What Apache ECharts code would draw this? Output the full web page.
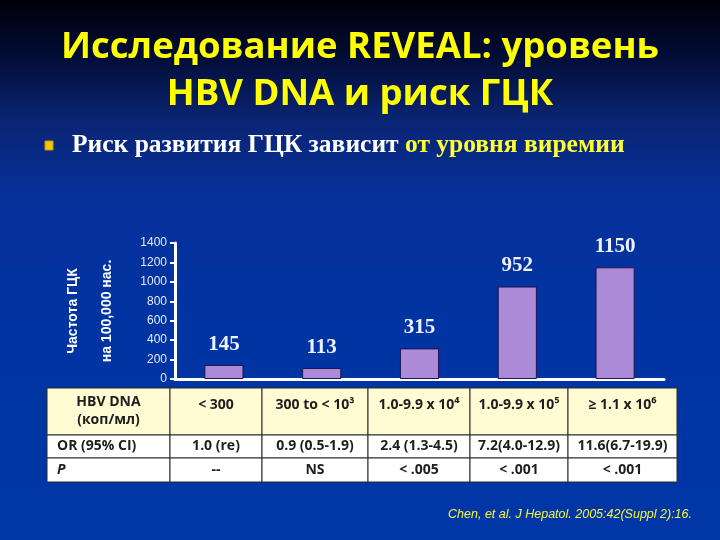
<!DOCTYPE html>
<html>
<head>
<meta charset="utf-8">
<script src="https://cdn.jsdelivr.net/npm/echarts@6/dist/echarts.min.js"></script>
<style>
  html, body { margin: 0; padding: 0; background: #0034a0; }
  #chart { width: 720px; height: 540px; }
</style>
</head>
<body>
<div id="chart"></div>
<script>
  // data
  var categories = ['< 300', '300 to < 10³', '1.0-9.9 x 10⁴', '1.0-9.9 x 10⁵', '≥ 1.1 x 10⁶'];
  var incidence = [145, 113, 315, 952, 1150];
  var yMin = 0, yMax = 1400, yStep = 200;
  var headLabel = 'HBV DNA\n(коп/мл)';
  var orLabel = 'OR (95% CI)';
  var pLabel = 'P';
  var orValues = ['1.0 (re)', '0.9 (0.5-1.9)', '2.4 (1.3-4.5)', '7.2(4.0-12.9)', '11.6(6.7-19.9)'];
  var pValues = ['--', 'NS', '< .005', '< .001', '< .001'];

  // table layout
  var colEdges = [47, 170, 262, 368, 470, 568, 677];
  var rowEdges = [388, 435, 458, 482];
  var tableFont = '"Open Sans", "Noto Sans", sans-serif';

  var dom = document.getElementById('chart');
  var myChart = echarts.init(dom, null, { renderer: 'canvas' });

  var graphic = [];
  // background gradient
  graphic.push({
    type: 'rect', z: -10, silent: true,
    shape: { x: 0, y: 0, width: 720, height: 540 },
    style: {
      fill: {
        type: 'linear', x: 0, y: 0, x2: 0, y2: 1,
        colorStops: [
          { offset: 0, color: '#00000a' },
          { offset: 0.1, color: '#020c34' },
          { offset: 0.22, color: '#0a2472' },
          { offset: 0.36, color: '#07309a' },
          { offset: 0.6, color: '#0034a2' },
          { offset: 1, color: '#0036a6' }
        ]
      }
    }
  });
  // bullet + subtitle
  graphic.push({
    type: 'rect', shape: { x: 45, y: 141, width: 8, height: 9 },
    style: { fill: '#f6c800', stroke: '#c89a00', lineWidth: 1 }
  });
  graphic.push({
    type: 'text', x: 72, y: 145,
    style: {
      text: '{w|Риск развития ГЦК зависит }{y|от уровня виремии}',
      verticalAlign: 'middle',
      rich: {
        w: { fill: '#ffffff', fontFamily: '"Liberation Serif", serif', fontWeight: 'bold', fontSize: 25.5 },
        y: { fill: '#ffff33', fontFamily: '"Liberation Serif", serif', fontWeight: 'bold', fontSize: 25.5 }
      }
    }
  });
  // citation
  graphic.push({
    type: 'text', x: 692, y: 515,
    style: {
      text: 'Chen, et al. J Hepatol. 2005:42(Suppl 2):16.',
      align: 'right', verticalAlign: 'middle',
      fill: '#f6f640', fontFamily: '"Liberation Sans", Arial, sans-serif',
      fontStyle: 'italic', fontSize: 12.5
    }
  });

  // table
  var rows = [
    [headLabel].concat(categories),
    [orLabel].concat(orValues),
    [pLabel].concat(pValues)
  ];
  rows.forEach(function (row, r) {
    row.forEach(function (txt, c) {
      var x0 = colEdges[c], x1 = colEdges[c + 1];
      var y0 = rowEdges[r], y1 = rowEdges[r + 1];
      graphic.push({
        type: 'rect', z: 5,
        shape: { x: x0, y: y0, width: x1 - x0, height: y1 - y0 },
        style: { fill: r === 0 ? '#fffbd2' : '#ffffff', stroke: '#2a2a2a', lineWidth: 1 }
      });
      var left = (c === 0 && r > 0);
      var ty = r === 0 ? (c === 0 ? (y0 + y1) / 2 : y0 + 17) : (y0 + y1) / 2;
      graphic.push({
        type: 'text', z: 6,
        x: left ? x0 + 10 : (x0 + x1) / 2, y: ty,
        style: {
          text: txt,
          align: left ? 'left' : 'center', verticalAlign: 'middle',
          fill: '#1e1e1e', fontFamily: tableFont, fontWeight: 'bold',
          fontStyle: (r === 2 && c === 0) ? 'italic' : 'normal',
          fontSize: 14, lineHeight: 18
        }
      });
    });
  });

  var option = {
    animation: false,
    title: {
      text: 'Исследование REVEAL: уровень\nHBV DNA и риск ГЦК',
      left: 'center', top: 19,
      textStyle: {
        color: '#ffff00', fontFamily: '"Open Sans", sans-serif',
        fontWeight: 'bold', fontSize: 36.5, lineHeight: 47
      }
    },
    grid: { left: 175, right: 56, top: 243, bottom: 161 },
    xAxis: {
      type: 'category',
      data: categories,
      axisLabel: { show: false },
      axisLine: { lineStyle: { color: '#ffffff', width: 3 } },
      axisTick: { length: 4, lineStyle: { color: '#ffffff', width: 2 } }
    },
    yAxis: {
      type: 'value',
      min: yMin, max: yMax, interval: yStep,
      name: 'Частота ГЦК\nна 100,000 нас.',
      nameLocation: 'middle', nameRotate: 90, nameGap: 51,
      nameTextStyle: {
        color: '#ffffff', fontFamily: '"Liberation Sans", Arial, sans-serif',
        fontWeight: 'bold', fontSize: 14, lineHeight: 34
      },
      axisLine: { show: true, lineStyle: { color: '#ffffff', width: 3 } },
      axisTick: { show: true, length: 5, lineStyle: { color: '#ffffff', width: 2 } },
      axisLabel: {
        color: '#e4ebff', fontFamily: '"Liberation Sans", Arial, sans-serif',
        fontSize: 12, margin: 8,
        formatter: function (v) { return String(v); }
      },
      splitLine: { show: false }
    },
    series: [{
      type: 'bar',
      data: incidence,
      barWidth: '40%',
      itemStyle: { color: '#ab8ad8', borderColor: '#1c1650', borderWidth: 1 },
      label: {
        show: true, position: 'top', distance: 10,
        color: '#eef2ff', fontFamily: '"Liberation Serif", serif',
        fontWeight: 'bold', fontSize: 21
      }
    }],
    graphic: graphic
  };

  if (option && typeof option === 'object') {
    myChart.setOption(option, true);
  }
</script>
</body>
</html>
